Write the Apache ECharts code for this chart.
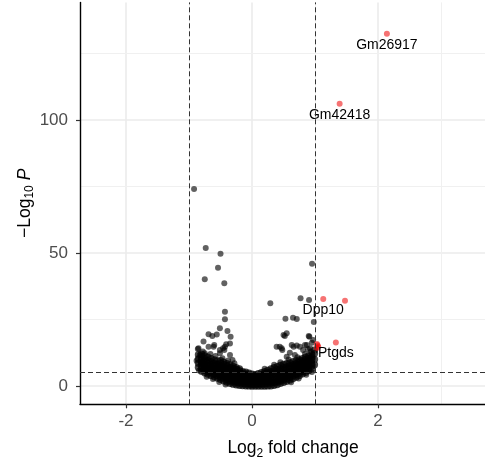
<!DOCTYPE html>
<html>
<head>
<meta charset="utf-8">
<script src="https://cdn.jsdelivr.net/npm/echarts@6/dist/echarts.min.js"></script>
<style>
html, body { margin: 0; padding: 0; background: #fff; }
#chart { width: 485px; height: 461px; }
</style>
</head>
<body>
<div id="chart"></div>
<script>
// Axis extents and reference lines
const xRange = [-2.73, 4.03];
const yRange = [-6.87, 144.2];
const xMajorTicks = [-2, 0, 2, 4];
const xMinorLines = [-1, 1, 3];
const yMajorTicks = [0, 50, 100];
const yMinorLines = [25, 75, 125];
const fcCutoffs = [-1, 1];
const pCutoff = 5;

// Labelled significant genes
const labelledGenes = ['Gm26917', 'Gm42418', 'Dpp10', 'Ptgds'];
const labelledFC = [2.14, 1.39, 1.13, 1.33];
const labelledP = [132.4, 106.1, 32.7, 16.4];

// Other significant genes (no label)
const sigFC = [1.475, 1.03, 1.05, 1.04, 1.03];
const sigP = [32.1, 15.8, 14.8, 15.3, 14.3];

// Non-significant genes away from the main cloud: [log2FC, -log10 P]
const looseGenes = [
  [-0.92, 74.1], [-0.735, 51.9], [-0.50, 49.7], [-0.54, 44.5], [-0.75, 40.1], [-0.44, 38.6],
  [-0.43, 27.9], [-0.43, 25.1], [-0.51, 21.7], [-0.39, 20.7], [-0.69, 19.5], [-0.56, 19.4],
  [-0.63, 18.8], [-0.34, 18.5], [-0.77, 16.7], [-0.60, 15.4], [-0.41, 15.7], [-0.86, 13.9],
  [-0.69, 14.8], [-0.51, 13.5], [-0.44, 13.5], [-0.83, 11.7], [-0.75, 12.3], [-0.81, 8.8],
  [-0.31, 9.8], [-0.43, 14.8], [-0.35, 11.7], [-0.85, 14.2], [-0.80, 8.5], [-0.61, 14.8],
  [-0.46, 14.2], [-0.35, 16.0], [-0.51, 12.3], [-0.88, 9.5], [-0.84, 5.8], [-0.78, 13.0],
  [-0.66, 12.0], [-0.58, 11.3], [-0.47, 10.4], [-0.38, 9.6], [-0.28, 8.6], [-0.62, 2.6],
  [-0.52, 1.5], [-0.42, 0.6], [-0.72, 3.5],
  [0.952, 46.0], [0.29, 31.1], [0.77, 33.0], [0.905, 32.3], [0.53, 25.3], [0.65, 25.7],
  [0.71, 25.2], [0.98, 24.1], [0.55, 19.8], [0.52, 18.8], [0.90, 18.8], [0.95, 16.3],
  [0.44, 14.8], [0.48, 13.5], [0.63, 15.4], [0.71, 15.2], [0.76, 14.8], [0.81, 13.5],
  [0.89, 13.8], [0.93, 12.9], [0.60, 12.5], [0.68, 11.7], [0.55, 11.0], [0.97, 17.3],
  [0.91, 18.5], [0.39, 14.8], [0.47, 14.2], [0.66, 14.8], [0.84, 15.4], [0.92, 14.2],
  [0.50, 19.2], [0.87, 15.4], [0.20, 6.5], [0.35, 8.0], [0.45, 8.9], [0.58, 10.0],
  [0.72, 10.8], [0.84, 12.0], [0.62, 1.4], [0.74, 2.8], [0.86, 4.2], [0.95, 5.3]
];

// Dense cloud of genes near zero, one column per log2FC step: [log2FC, [-log10 P ...]]
const cloudColumns = [
  [-0.85, [7.0, 8.6, 10.2, 11.8]],
  [-0.80, [5.6, 6.6, 7.7, 8.7, 9.8, 10.9, 12.0]],
  [-0.75, [5.0, 6.0, 7.0, 8.1, 9.1, 10.2, 11.3]],
  [-0.70, [4.5, 5.5, 6.5, 7.5, 8.5, 9.6, 10.8]],
  [-0.65, [4.0, 5.0, 6.0, 7.0, 8.0, 9.1, 10.3]],
  [-0.60, [3.5, 4.5, 5.5, 6.5, 7.5, 8.6, 9.8]],
  [-0.55, [3.0, 4.0, 5.0, 6.0, 7.0, 8.1, 9.4]],
  [-0.50, [2.5, 3.5, 4.5, 5.5, 6.5, 7.5, 8.6, 9.5]],
  [-0.45, [2.0, 3.0, 4.0, 5.0, 6.0, 7.0, 8.0, 9.0]],
  [-0.40, [1.5, 2.5, 3.5, 4.5, 5.5, 6.5, 7.5, 8.4]],
  [-0.35, [1.0, 2.0, 3.0, 4.0, 5.0, 6.0, 7.0, 7.9]],
  [-0.30, [0.7, 1.6, 2.6, 3.6, 4.6, 5.6, 6.6, 7.4]],
  [-0.25, [0.5, 1.4, 2.4, 3.4, 4.4, 5.3, 6.2, 6.9]],
  [-0.20, [0.3, 1.2, 2.1, 3.1, 4.0, 5.0, 5.8, 6.4]],
  [-0.15, [0.2, 1.0, 1.9, 2.8, 3.7, 4.6, 5.4]],
  [-0.10, [0.1, 0.9, 1.8, 2.6, 3.5, 4.4, 5.2]],
  [-0.05, [0.05, 0.8, 1.6, 2.4, 3.2, 4.0, 4.8]],
  [0.00, [0.0, 0.7, 1.5, 2.3, 3.0, 3.7, 4.4]],
  [0.05, [0.0, 0.7, 1.4, 2.2, 2.9, 3.6, 4.3]],
  [0.10, [0.0, 0.8, 1.6, 2.4, 3.1, 3.9, 4.6]],
  [0.15, [0.0, 0.8, 1.7, 2.5, 3.3, 4.2, 5.0]],
  [0.20, [0.0, 0.9, 1.8, 2.7, 3.6, 4.5, 5.4]],
  [0.25, [0.05, 1.0, 1.9, 2.9, 3.9, 4.9, 5.9]],
  [0.30, [0.1, 1.1, 2.1, 3.2, 4.2, 5.3, 6.4]],
  [0.35, [0.3, 1.3, 2.4, 3.5, 4.6, 5.7, 6.9]],
  [0.40, [0.6, 1.6, 2.7, 3.8, 4.9, 6.1, 7.3]],
  [0.45, [1.0, 2.0, 3.1, 4.2, 5.3, 6.5, 7.7]],
  [0.50, [1.4, 2.4, 3.5, 4.6, 5.7, 6.9, 8.1]],
  [0.55, [1.8, 2.8, 3.9, 5.0, 6.1, 7.2, 8.4]],
  [0.60, [2.3, 3.3, 4.3, 5.4, 6.5, 7.6, 8.7]],
  [0.65, [2.8, 3.8, 4.8, 5.8, 6.9, 8.0, 9.1]],
  [0.70, [3.4, 4.4, 5.4, 6.4, 7.4, 8.4, 9.4]],
  [0.75, [4.0, 5.0, 6.0, 6.9, 7.9, 8.9, 9.8]],
  [0.80, [4.6, 5.5, 6.5, 7.4, 8.4, 9.4, 10.3]],
  [0.85, [5.2, 6.1, 7.0, 8.0, 8.9, 9.9, 10.8]],
  [0.90, [5.8, 6.7, 7.6, 8.5, 9.4, 10.4, 11.3]],
  [0.95, [6.5, 7.6, 8.6, 9.7, 10.8, 11.8]],
  [0.99, [8.0, 10.0, 12.2, 13.5]]
];

const FONT = "'Liberation Sans', Arial, sans-serif";

const cloudData = [];
cloudColumns.forEach(function (col) {
  col[1].forEach(function (p) { cloudData.push([col[0], p]); });
});

const labelledData = labelledGenes.map(function (g, i) {
  return { name: g, value: [labelledFC[i], labelledP[i]] };
});
const sigData = sigFC.map(function (fc, i) { return [fc, sigP[i]]; });

const chart = echarts.init(document.getElementById('chart'), null, { renderer: 'canvas' });

chart.setOption({
  animation: false,
  backgroundColor: '#ffffff',
  grid: { left: 80, right: -21, top: 2.4, bottom: 56.7, containLabel: false, outerBoundsMode: 'none' },
  xAxis: {
    type: 'value',
    min: xRange[0],
    max: xRange[1],
    name: '{m|Log}{s|2}{m| fold change}',
    nameLocation: 'middle',
    nameGap: 33,
    nameMoveOverlap: false,
    nameTextStyle: {
      rich: {
        m: { fontSize: 17.5, fontFamily: FONT, color: '#000', lineHeight: 22 },
        s: { fontSize: 12, fontFamily: FONT, color: '#000', lineHeight: 14, verticalAlign: 'bottom' }
      }
    },
    axisLine: { show: true, onZero: false, lineStyle: { color: '#000', width: 1.4 } },
    axisTick: { show: true, customValues: xMajorTicks, length: 4, lineStyle: { color: '#333', width: 1.2 } },
    axisLabel: { customValues: xMajorTicks, margin: 9, fontSize: 17, fontFamily: FONT, color: '#4d4d4d' },
    splitLine: { show: false }
  },
  yAxis: {
    type: 'value',
    min: yRange[0],
    max: yRange[1],
    name: '{m|\u2212Log}{s|10}{p| P}',
    nameLocation: 'middle',
    nameRotate: 90,
    nameGap: 44,
    nameMoveOverlap: false,
    nameTextStyle: {
      rich: {
        m: { fontSize: 17.5, fontFamily: FONT, color: '#000', lineHeight: 22 },
        s: { fontSize: 12, fontFamily: FONT, color: '#000', lineHeight: 14, verticalAlign: 'bottom' },
        p: { fontSize: 17.5, fontFamily: FONT, color: '#000', lineHeight: 22, fontStyle: 'italic' }
      }
    },
    axisLine: { show: true, onZero: false, lineStyle: { color: '#000', width: 1.4 } },
    axisTick: { show: true, customValues: yMajorTicks, length: 4, lineStyle: { color: '#333', width: 1.2 } },
    axisLabel: { customValues: yMajorTicks, margin: 12, fontSize: 17, fontFamily: FONT, color: '#4d4d4d' },
    splitLine: { show: false }
  },
  series: [
    {
      // panel grid lines, kept beneath the points
      type: 'scatter',
      data: [],
      z: 0,
      silent: true,
      markLine: {
        z: 0,
        silent: true,
        symbol: 'none',
        animation: false,
        label: { show: false },
        emphasis: { disabled: true },
        data: []
          .concat(xMajorTicks.map(function (v) { return { xAxis: v, lineStyle: { color: '#ebebeb', width: 1.6, type: 'solid' } }; }))
          .concat(yMajorTicks.map(function (v) { return { yAxis: v, lineStyle: { color: '#ebebeb', width: 1.6, type: 'solid' } }; }))
          .concat(xMinorLines.map(function (v) { return { xAxis: v, lineStyle: { color: '#f0f0f0', width: 1, type: 'solid' } }; }))
          .concat(yMinorLines.map(function (v) { return { yAxis: v, lineStyle: { color: '#f0f0f0', width: 1, type: 'solid' } }; }))
      }
    },
    {
      name: 'NS',
      type: 'scatter',
      z: 2,
      silent: true,
      symbolSize: 6,
      itemStyle: { color: 'rgba(0,0,0,0.62)', opacity: 1 },
      data: looseGenes
    },
    {
      name: 'NS cloud',
      type: 'scatter',
      z: 2,
      silent: true,
      symbolSize: 7.4,
      itemStyle: { color: 'rgba(0,0,0,0.72)', opacity: 1 },
      data: cloudData
    },
    {
      name: 'sig',
      type: 'scatter',
      z: 3,
      silent: true,
      symbolSize: 6,
      itemStyle: { color: 'rgba(238,0,0,0.55)', opacity: 1 },
      data: sigData
    },
    {
      name: 'labelled',
      type: 'scatter',
      z: 4,
      silent: true,
      symbolSize: 6,
      itemStyle: { color: 'rgba(238,0,0,0.55)', opacity: 1 },
      label: {
        show: true,
        position: 'bottom',
        distance: 1,
        formatter: '{b}',
        fontSize: 14,
        fontFamily: FONT,
        color: '#000'
      },
      data: labelledData
    },
    {
      // cutoff lines
      type: 'scatter',
      data: [],
      z: 6,
      silent: true,
      markLine: {
        z: 6,
        silent: true,
        symbol: 'none',
        animation: false,
        label: { show: false },
        emphasis: { disabled: true },
        lineStyle: { color: '#333', width: 1, type: [5, 3] },
        data: fcCutoffs.map(function (v) { return { xAxis: v }; }).concat([{ yAxis: pCutoff }])
      }
    }
  ]
});
</script>
</body>
</html>
